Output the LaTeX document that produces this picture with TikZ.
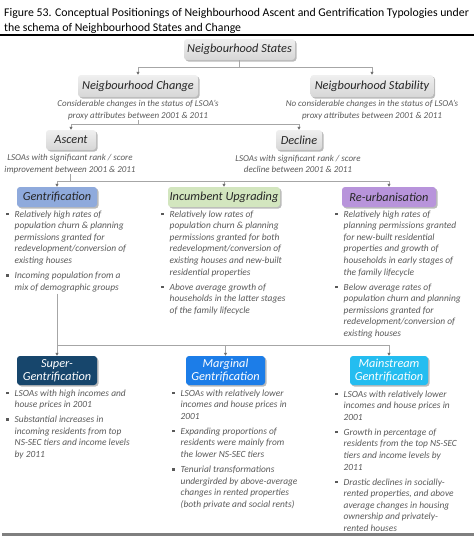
\documentclass[tikz,border=0pt]{standalone}
\usepackage{fontspec}
\setmainfont{Carlito}
\usetikzlibrary{arrows.meta,shadows}
\definecolor{txtgray}{HTML}{595959}
\definecolor{linegray}{HTML}{A6A6A6}
\definecolor{tipgray}{HTML}{6E6E6E}
\definecolor{labelcol}{HTML}{262626}
\definecolor{gentrcol}{HTML}{8FAADC}
\definecolor{incumbcol}{HTML}{D3E6BF}
\definecolor{reurbcol}{HTML}{B894DB}
\definecolor{supercol}{HTML}{17466C}
\definecolor{margcol}{HTML}{1C7DE8}
\definecolor{maincol}{HTML}{24BDF0}
\definecolor{barcol}{HTML}{7F7F7F}
\newcommand\bsq{\raisebox{1.9pt}{\rule{2.5pt}{2.5pt}}}
\begin{document}
\begin{tikzpicture}[x=1pt,y=-1pt,
  boxbase/.style={rounded corners=3pt, inner sep=0pt, align=center,
    font=\fontsize{12.3}{13.5}\selectfont\itshape,
    drop shadow={shadow xshift=1.5pt,shadow yshift=-1.5pt,opacity=0.45,fill=black!60}},
  graybox/.style={boxbase, top color=gray!12, bottom color=gray!32, text=labelcol},
  colbox/.style={boxbase, fill=#1, text=labelcol},
  darkbox/.style={boxbase, fill=#1, text=white, font=\fontsize{12.3}{13.5}\selectfont\itshape},
  desc/.style={font=\fontsize{9}{11.8}\selectfont\itshape, text=txtgray, align=center, inner sep=0pt},
  lst/.style={font=\fontsize{9.4}{11.6}\selectfont\itshape, text=txtgray, inner sep=0pt, anchor=base west},
  conn/.style={draw=linegray, line width=0.8pt},
  arr/.style={conn, -{Triangle[width=3pt,length=3pt,fill=tipgray,color=tipgray]}}
]
\useasboundingbox (0,0) rectangle (474,536);

% title
\node[anchor=base west, inner sep=0pt, align=left, font=\fontsize{11.8}{14.5}\selectfont, text=black] (title) at (4,31)
  {Figure 53. Conceptual Positionings of Neighbourhood Ascent and Gentrification Typologies under\\
   the schema of Neighbourhood States and Change};
\draw[line width=2pt] (0,34.8) -- (474,34.8);

% level 1
\node[graybox, minimum width=111pt, minimum height=21pt] (states) at (239.5,49.5) {Neigbourhood States};
% level 2
\node[graybox, minimum width=120pt, minimum height=22pt] (change) at (138,86) {Neigbourhood Change};
\node[graybox, minimum width=123pt, minimum height=22pt] (stability) at (372,86) {Neigbourhood Stability};
\node[desc] (changetxt) at (138,110) {Considerable changes in the status of LSOA's\\proxy attributes between 2001 \& 2011};
\node[desc] (stabtxt) at (372,110) {No considerable changes in the status of LSOA's\\proxy attributes between 2001 \& 2011};
% level 3
\node[graybox, minimum width=50pt, minimum height=20pt] (ascent) at (71,140) {Ascent};
\node[graybox, minimum width=46pt, minimum height=20pt] (decline) at (299,140) {Decline};
\node[desc] (ascenttxt) at (70,164) {LSOAs with significant rank / score\\improvement between 2001 \& 2011};
\node[desc] (declinetxt) at (298,164) {LSOAs with significant rank / score\\decline between 2001 \& 2011};
% level 4
\node[colbox=gentrcol, minimum width=80pt, minimum height=20pt] (gentr) at (57,197) {Gentrification};
\node[colbox=incumbcol, minimum width=112pt, minimum height=20pt] (incumb) at (224,197) {Incumbent Upgrading};
\node[colbox=reurbcol, minimum width=94pt, minimum height=20pt] (reurb) at (389,197) {Re-urbanisation};

\node[lst] (gentrlist) at (6,217) {\begin{tabular}[t]{@{}l@{\hspace{6pt}}l@{}}
\bsq & Relatively high rates of\\
 & population churn \& planning\\
 & permissions granted for\\
 & redevelopment/conversion of\\
 & existing houses\\[3.4pt]
\bsq & Incoming population from a\\
 & mix of demographic groups
\end{tabular}};
\node[lst] (incumblist) at (161,217) {\begin{tabular}[t]{@{}l@{\hspace{6pt}}l@{}}
\bsq & Relatively low rates of\\
 & population churn \& planning\\
 & permissions granted for both\\
 & redevelopment/conversion of\\
 & existing houses and new-built\\
 & residential properties\\[3.4pt]
\bsq & Above average growth of\\
 & households in the latter stages\\
 & of the family lifecycle
\end{tabular}};
\node[lst] (reurblist) at (335,217) {\begin{tabular}[t]{@{}l@{\hspace{6pt}}l@{}}
\bsq & Relatively high rates of\\
 & planning permissions granted\\
 & for new-built residential\\
 & properties and growth of\\
 & households in early stages of\\
 & the family lifecycle\\[3.4pt]
\bsq & Below average rates of\\
 & population churn and planning\\
 & permissions granted for\\
 & redevelopment/conversion of\\
 & existing houses
\end{tabular}};

% level 5
\node[darkbox=supercol, minimum width=80pt, minimum height=29pt] (super) at (57,370.5) {Super-\\Gentrification};
\node[darkbox=margcol, minimum width=79pt, minimum height=29pt] (marginal) at (225.5,370.5) {Marginal\\Gentrification};
\node[darkbox=maincol, minimum width=78pt, minimum height=29pt] (mainstream) at (389,370.5) {Mainstream\\Gentrification};

\node[lst] (superlist) at (6,396) {\begin{tabular}[t]{@{}l@{\hspace{6pt}}l@{}}
\bsq & LSOAs with high incomes and\\
 & house prices in 2001\\[3.4pt]
\bsq & Substantial increases in\\
 & incoming residents from top\\
 & NS-SEC tiers and income levels\\
 & by 2011
\end{tabular}};
\node[lst] (marglist) at (172,396) {\begin{tabular}[t]{@{}l@{\hspace{6pt}}l@{}}
\bsq & LSOAs with relatively lower\\
 & incomes and house prices in\\
 & 2001\\[3.4pt]
\bsq & Expanding proportions of\\
 & residents were mainly from\\
 & the lower NS-SEC tiers\\[3.4pt]
\bsq & Tenurial transformations\\
 & undergirded by above-average\\
 & changes in rented properties\\
 & (both private and social rents)
\end{tabular}};
\node[lst] (mainlist) at (335,397) {\begin{tabular}[t]{@{}l@{\hspace{6pt}}l@{}}
\bsq & LSOAs with relatively lower\\
 & incomes and house prices in\\
 & 2001\\[3.4pt]
\bsq & Growth in percentage of\\
 & residents from the top NS-SEC\\
 & tiers and income levels by\\
 & 2011\\[3.4pt]
\bsq & Drastic declines in socially-\\
 & rented properties, and above\\
 & average changes in housing\\
 & ownership and privately-\\
 & rented houses
\end{tabular}};

% connectors
\coordinate (j1) at (239.5,67);
\draw[conn] (states.south) -- (j1);
\draw[arr] (j1) -| (change.north);
\draw[arr] (j1) -| (stability.north);

\coordinate (j2) at (138,124);
\draw[conn] (changetxt.south) -- (j2);
\draw[arr] (j2) -| (ascent.north);
\draw[arr] (j2) -| (decline.north);

\coordinate (j3) at (70,181);
\draw[conn] (ascenttxt.south) -- (j3);
\draw[arr] (j3) -| (gentr.north);
\draw[arr] (j3) -| (incumb.north);
\draw[arr] (j3) -| (reurb.north);

\coordinate (j4) at (57,345);
\draw[conn] (gentrlist.south -| gentr.south) -- (j4);
\draw[arr] (j4) -- (super.north);
\draw[arr] (j4) -| (marginal.north);
\draw[arr] (j4) -| (mainstream.north);

% bottom bar
\fill[barcol] (2,532.5) rectangle (474,536);
\end{tikzpicture}
\end{document}
